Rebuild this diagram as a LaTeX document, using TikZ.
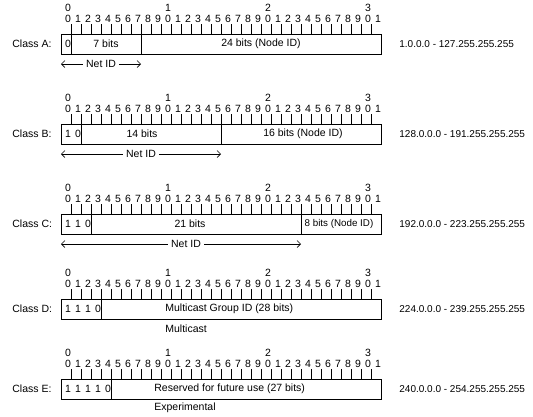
\documentclass[tikz,border=0pt]{standalone}
\usepackage{fontspec}
\setmainfont{Liberation Sans}
\usetikzlibrary{arrows.meta}

\tikzset{
	txt/.style={font=\fontsize{10.5}{12}\selectfont, inner sep=0pt},
	rangetxt/.style={txt, font=\fontsize{10}{12}\selectfont, anchor=west},
	addrbox/.style={draw, minimum width=320, minimum height=20, anchor=north west, inner sep=0pt, outer sep=0pt},
	netarrow/.style={line width=0.6pt, {Straight Barb[length=3.5pt,width=7pt]}-{Straight Barb[length=3.5pt,width=7pt]}},
	netlabel/.style={txt, fill=white, inner xsep=3pt}
}

\begin{document}
\begin{tikzpicture}[x=1pt, y=-1pt, line width=0.8pt]
	\useasboundingbox[fill=white] (0,0) rectangle (533,416);
	\foreach \cls/\ytop/\iprange in {A/34/{1.0.0.0 - 127.255.255.255}, B/124/{128.0.0.0 - 191.255.255.255}, C/214/{192.0.0.0 - 223.255.255.255}, D/299/{224.0.0.0 - 239.255.255.255}, E/379/{240.0.0.0 - 254.255.255.255}}{
		\node[txt, anchor=west] (class\cls) at (12,\ytop+10) {Class \cls:};
		\node[addrbox] (box\cls) at (61,\ytop) {};
		\node[rangetxt] (range\cls) at (399,\ytop+10) {\iprange};
		\foreach \i in {1,...,31}
			\draw (61+10*\i,\ytop) -- ++(0,-10);
		\foreach \i in {0,...,31}{
			\pgfmathtruncatemacro\d{mod(\i,10)}
			\node[txt] at (68+10*\i,\ytop-15) {\d};
		}
		\foreach \t in {0,...,3}
			\node[txt] at (68+100*\t,\ytop-26) {\t};
	}

	\draw ([xshift=10pt]boxA.north west) -- ([xshift=10pt]boxA.south west)
		([xshift=80pt]boxA.north west) -- ([xshift=80pt]boxA.south west);
	\node[txt] at (68,44) {0};
	\node[txt] at (106,44) {7 bits};
	\node[txt] at (261,44) {24 bits (Node ID)};
	\coordinate (netaleft) at (61,64);
	\coordinate (netaright) at (141,64);
	\draw[netarrow] (netaleft) -- node[netlabel] {Net ID} (netaright);

	\draw ([xshift=20pt]boxB.north west) -- ([xshift=20pt]boxB.south west)
		([xshift=160pt]boxB.north west) -- ([xshift=160pt]boxB.south west);
	\foreach \b [count=\i from 0] in {1,0}
		\node[txt] at (68+10*\i,134) {\b};
	\node[txt] at (142,134) {14 bits};
	\node[txt] at (303,134) {16 bits (Node ID)};
	\coordinate (netbleft) at (61,154);
	\coordinate (netbright) at (221,154);
	\draw[netarrow] (netbleft) -- node[netlabel] {Net ID} (netbright);

	\draw ([xshift=30pt]boxC.north west) -- ([xshift=30pt]boxC.south west)
		([xshift=240pt]boxC.north west) -- ([xshift=240pt]boxC.south west);
	\foreach \b [count=\i from 0] in {1,1,0}
		\node[txt] at (68+10*\i,224) {\b};
	\node[txt] at (190,224) {21 bits};
	\node[txt, font=\fontsize{9.8}{12}\selectfont] at (339,224) {8 bits (Node ID)};
	\coordinate (netcleft) at (61,244);
	\coordinate (netcright) at (301,244);
	\draw[netarrow] (netcleft) -- node[netlabel, xshift=5pt] {Net ID} (netcright);

	\draw ([xshift=40pt]boxD.north west) -- ([xshift=40pt]boxD.south west);
	\foreach \b [count=\i from 0] in {1,1,1,0}
		\node[txt] at (68+10*\i,309) {\b};
	\node[txt, anchor=west] (groupid) at (165,309) {Multicast Group ID (28 bits)};
	\node[txt, anchor=west] (multicast) at (165,329) {Multicast};

	\draw ([xshift=50pt]boxE.north west) -- ([xshift=50pt]boxE.south west);
	\foreach \b [count=\i from 0] in {1,1,1,1,0}
		\node[txt] at (68+10*\i,389) {\b};
	\node[txt, anchor=west] (reserved) at (154,389) {Reserved for future use (27 bits)};
	\node[txt, anchor=west] (experimental) at (154,408) {Experimental};
\end{tikzpicture}
\end{document}
